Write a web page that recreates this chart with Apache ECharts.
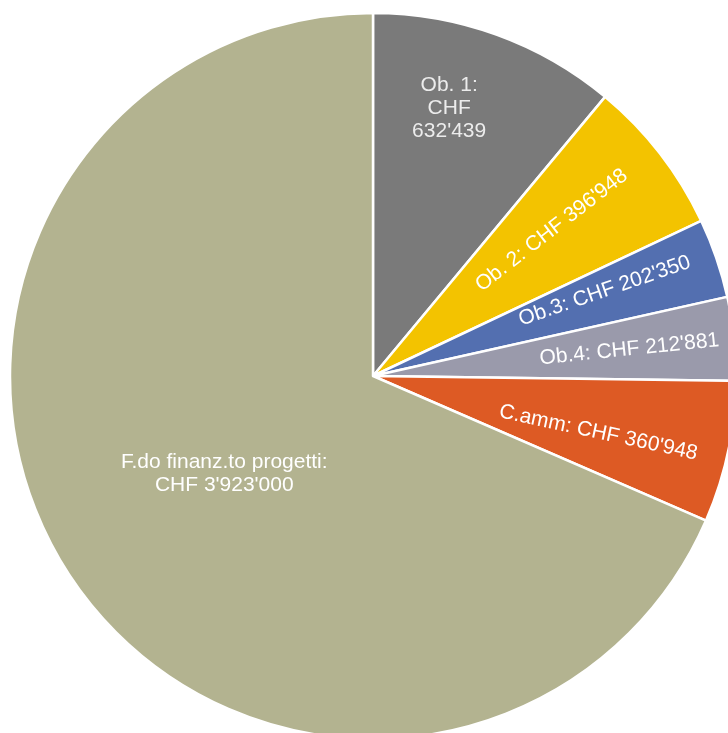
<!DOCTYPE html>
<html>
<head>
<meta charset="utf-8">
<script src="https://cdn.jsdelivr.net/npm/echarts@6/dist/echarts.min.js"></script>
<style>
html,body{margin:0;padding:0;background:#fff;}
#chart{width:728px;height:733px;}
</style>
</head>
<body>
<div id="chart"></div>
<script>
var categories = ['Ob. 1', 'Ob. 2', 'Ob.3', 'Ob.4', 'C.amm', 'F.do finanz.to progetti'];
var values = [632439, 396948, 202350, 212881, 360948, 3923000];
var colors = ['#7a7a7a', '#f3c300', '#536fb0', '#9a9aab', '#dd5a24', '#b3b390'];
var labelColors = ['#ececec', '#ffffff', '#ffffff', '#ffffff', '#ffffff', '#ffffff'];
// label text breaks: after "name:" and after "CHF"
var breakAfterName = ['\n', ' ', ' ', ' ', ' ', '\n'];
var breakAfterCurrency = ['\n', ' ', ' ', ' ', ' ', ' '];
// label placement (fraction of radius, angle shift in degrees, radial rotation)
var labelRadius = [0.767, 0.635, 0.68, 0.71, 0.64, 0.49];
var labelAngleShift = [-4, -1.4, -1.2, 0, 2, 0];
var labelRadial = [false, true, true, true, true, false];

var CX = 373, CY = 376, R = 363;

function fmt(v) {
  return String(v).replace(/\B(?=(\d{3})+(?!\d))/g, "'");
}

var total = values.reduce(function (a, b) { return a + b; }, 0);
var midAngles = [];
(function () {
  var cum = 0;
  for (var i = 0; i < values.length; i++) {
    var a = values[i] / total * 360;
    midAngles.push(cum + a / 2);
    cum += a;
  }
})();

var data = categories.map(function (c, i) {
  return {
    name: c,
    value: values[i],
    itemStyle: { color: colors[i] },
    label: { color: labelColors[i] }
  };
});

var chart = echarts.init(document.getElementById('chart'), null, { renderer: 'canvas' });
chart.setOption({
  animation: false,
  backgroundColor: '#ffffff',
  series: [{
    type: 'pie',
    center: [CX, CY],
    radius: [0, R],
    startAngle: 90,
    clockwise: true,
    avoidLabelOverlap: false,
    data: data,
    itemStyle: { borderColor: '#ffffff', borderWidth: 2.5 },
    label: {
      show: true,
      position: 'inside',
      fontFamily: 'Liberation Sans, Arial, sans-serif',
      fontSize: 21,
      lineHeight: 23,
      align: 'center',
      formatter: function (p) {
        var i = p.dataIndex;
        return p.name + ':' + breakAfterName[i] + 'CHF' + breakAfterCurrency[i] + fmt(p.value);
      }
    },
    labelLine: { show: false },
    labelLayout: function (p) {
      var i = p.dataIndex;
      var th = (midAngles[i] + labelAngleShift[i]) * Math.PI / 180;
      var d = labelRadius[i] * R;
      return {
        x: CX + d * Math.sin(th),
        y: CY - d * Math.cos(th),
        align: 'center',
        verticalAlign: 'middle',
        rotate: labelRadial[i] ? 90 - (midAngles[i]) : 0
      };
    }
  }]
});
</script>
</body>
</html>
